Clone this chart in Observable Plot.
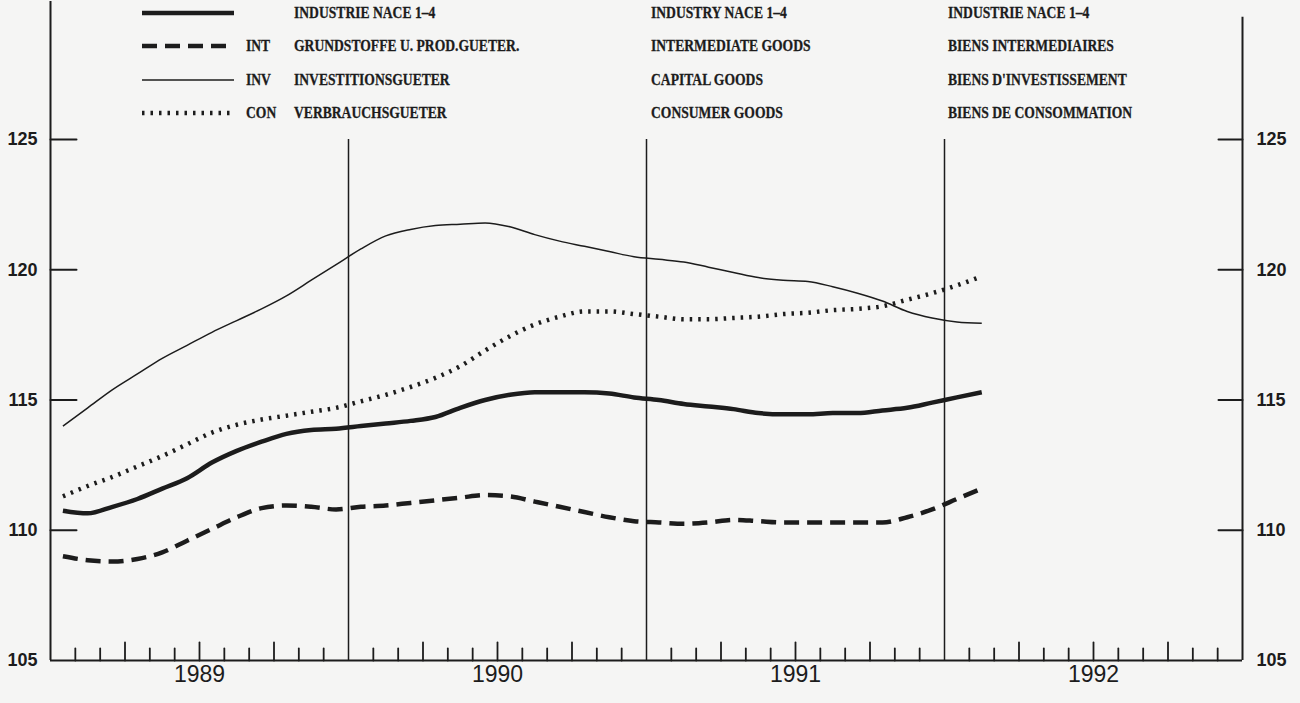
<!DOCTYPE html>
<html>
<head>
<meta charset="utf-8">
<script src="https://cdn.jsdelivr.net/npm/d3@7"></script>
<script src="https://cdn.jsdelivr.net/npm/@observablehq/plot@0.6"></script>
<style>
  html, body { margin: 0; padding: 0; background: #f5f5f4; }
  #wrap { position: relative; width: 1300px; height: 703px; overflow: hidden; }
  #legend { position: absolute; left: 0; top: 0; width: 1300px; height: 130px; pointer-events: none;
    font-family: "Liberation Serif", "DejaVu Serif", serif; font-weight: bold; font-size: 17px; color: #1c1c1c; }
  #legend .t { position: absolute; white-space: nowrap; transform-origin: 0 50%; transform: translateY(-50%) scaleX(0.8);
    -webkit-text-stroke: 0.3px #1c1c1c; }
  #legend svg { position: absolute; left: 0; top: 0; }
</style>
</head>
<body>
<div id="wrap">
  <div id="chart"></div>
  <div id="legend"></div>
</div>
<script>
// ---- data (monthly, Jan 1989 – Feb 1992) ----
const startMonth = "1989-01";
const endMonth = "1992-02";
const IND = [110.75,110.65,110.9,111.2,111.6,112.0,112.6,113.05,113.4,113.7,113.85,113.9,
             114.0,114.1,114.2,114.35,114.7,115.0,115.2,115.3,115.3,115.3,115.25,115.1,
             115.0,114.85,114.75,114.65,114.5,114.45,114.45,114.5,114.5,114.6,114.7,114.9,
             115.1,115.3];
const INT = [109.0,108.85,108.8,108.9,109.15,109.6,110.05,110.5,110.85,110.95,110.9,110.8,
             110.9,110.95,111.05,111.15,111.25,111.35,111.3,111.1,110.9,110.7,110.5,110.35,
             110.3,110.25,110.3,110.4,110.35,110.3,110.3,110.3,110.3,110.3,110.5,110.8,
             111.2,111.6];
const INV = [114.0,114.7,115.4,116.0,116.6,117.1,117.6,118.05,118.5,119.0,119.6,120.2,
             120.8,121.3,121.55,121.7,121.75,121.8,121.65,121.35,121.1,120.9,120.7,120.5,
             120.4,120.3,120.1,119.9,119.7,119.6,119.55,119.35,119.1,118.8,118.4,118.15,
             118.0,117.95];
const CON = [111.3,111.7,112.05,112.45,112.85,113.3,113.75,114.05,114.25,114.4,114.55,114.7,
             114.95,115.2,115.5,115.85,116.3,116.9,117.45,117.9,118.2,118.4,118.4,118.3,
             118.2,118.1,118.1,118.15,118.2,118.3,118.35,118.45,118.5,118.6,118.85,119.1,
             119.4,119.75];
const years = [1989, 1990, 1991, 1992];
const yTicks = [105, 110, 115, 120, 125];
const legendCodes = ["", "INT", "INV", "CON"];
const legendDE = ["INDUSTRIE NACE 1–4", "GRUNDSTOFFE U. PROD.GUETER.", "INVESTITIONSGUETER", "VERBRAUCHSGUETER"];
const legendEN = ["INDUSTRY NACE 1–4", "INTERMEDIATE GOODS", "CAPITAL GOODS", "CONSUMER GOODS"];
const legendFR = ["INDUSTRIE NACE 1–4", "BIENS INTERMEDIAIRES", "BIENS D'INVESTISSEMENT", "BIENS DE CONSOMMATION"];

// ---- build table ----
const parseM = d3.utcParse("%Y-%m");
const monthDates = d3.utcMonth.range(parseM(startMonth), d3.utcMonth.offset(parseM(endMonth), 1));
const toX = (d) => d.getUTCFullYear() + (d.getUTCMonth() + 0.5) / 12;
const seriesDefs = [
  {key: "IND", values: IND, width: 4.5, dash: null},
  {key: "INT", values: INT, width: 4.5, dash: "15,8"},
  {key: "INV", values: INV, width: 1.5, dash: null},
  {key: "CON", values: CON, width: 4.5, dash: "2.5,6"}
];
const rows = seriesDefs.map(s => monthDates.map((d, i) => ({series: s.key, x: toX(d), y: s.values[i]})));

// month ticks along the x axis
const monthTicks = years.flatMap(y => d3.range(1, 12).map(m => ({x: y + m / 12, q: m % 3 === 0})));
const lineShape = {draw(context, l) { context.moveTo(0, 0); context.lineTo(0, -l); }};
const ink = "#1c1c1c";

const chart = Plot.plot({
  width: 1300,
  height: 703,
  marginLeft: 50,
  marginRight: 58,
  marginTop: 1,
  marginBottom: 43,
  style: {background: "transparent", fontFamily: "'Liberation Sans', Arial, sans-serif", color: ink},
  x: {domain: [1989, 1993], axis: null},
  y: {domain: [105, 130.3], axis: null},
  marks: [
    // frame lines
    Plot.ruleX([1989], {stroke: ink, strokeWidth: 2}),
    Plot.ruleX([1993], {y1: 105, y2: 129.7, stroke: ink, strokeWidth: 2}),
    Plot.ruleY([105], {stroke: ink, strokeWidth: 2}),
    Plot.ruleX(years.slice(1), {y1: 105, y2: 125, stroke: ink, strokeWidth: 1.5}),
    // y ticks (inward)
    Plot.vector(yTicks.slice(1), {y: d => d, frameAnchor: "left", rotate: 90, length: 26, anchor: "start", shape: lineShape, stroke: ink, strokeWidth: 2}),
    Plot.vector(yTicks.slice(1), {y: d => d, frameAnchor: "right", rotate: -90, length: 24, anchor: "start", shape: lineShape, stroke: ink, strokeWidth: 2}),
    // y labels
    Plot.axisY({anchor: "left", ticks: yTicks, tickSize: 0, tickPadding: 13, fontSize: 18, fontWeight: "bold", label: null, tickFormat: d => String(d)}),
    Plot.axisY({anchor: "right", ticks: yTicks, tickSize: 0, tickPadding: 14, fontSize: 18, fontWeight: "bold", label: null, tickFormat: d => String(d)}),
    // month ticks
    Plot.vector(monthTicks.filter(d => !d.q), {x: "x", frameAnchor: "bottom", length: 12, anchor: "start", shape: lineShape, stroke: ink, strokeWidth: 1.8}),
    Plot.vector(monthTicks.filter(d => d.q), {x: "x", frameAnchor: "bottom", length: 18, anchor: "start", shape: lineShape, stroke: ink, strokeWidth: 1.8}),
    // year labels
    Plot.text(years, {x: d => d + 0.5, text: d => String(d), frameAnchor: "bottom", dy: 21, fontSize: 23, fill: ink}),
    // series
    ...seriesDefs.map((s, k) => Plot.line(rows[k], {x: "x", y: "y", stroke: ink, strokeWidth: s.width, strokeDasharray: s.dash, curve: "monotone-x", strokeLinecap: "butt"}))
  ]
});
document.getElementById("chart").appendChild(chart);

// ---- legend overlay ----
const legend = document.getElementById("legend");
const rowY = [13, 46, 80, 113];
const ns = "http://www.w3.org/2000/svg";
const lsvg = document.createElementNS(ns, "svg");
lsvg.setAttribute("width", 1300); lsvg.setAttribute("height", 130);
seriesDefs.forEach((s, i) => {
  const ln = document.createElementNS(ns, "line");
  ln.setAttribute("x1", 142); ln.setAttribute("x2", 234);
  ln.setAttribute("y1", rowY[i]); ln.setAttribute("y2", rowY[i]);
  ln.setAttribute("stroke", ink);
  ln.setAttribute("stroke-width", s.width);
  if (s.dash) ln.setAttribute("stroke-dasharray", s.dash);
  lsvg.appendChild(ln);
});
legend.appendChild(lsvg);
function addText(x, y, txt) {
  const d = document.createElement("div");
  d.className = "t"; d.style.left = x + "px"; d.style.top = y + "px"; d.textContent = txt;
  legend.appendChild(d);
}
rowY.forEach((y, i) => {
  if (legendCodes[i]) addText(246, y, legendCodes[i]);
  addText(294, y, legendDE[i]);
  addText(651, y, legendEN[i]);
  addText(948, y, legendFR[i]);
});
</script>
</body>
</html>
